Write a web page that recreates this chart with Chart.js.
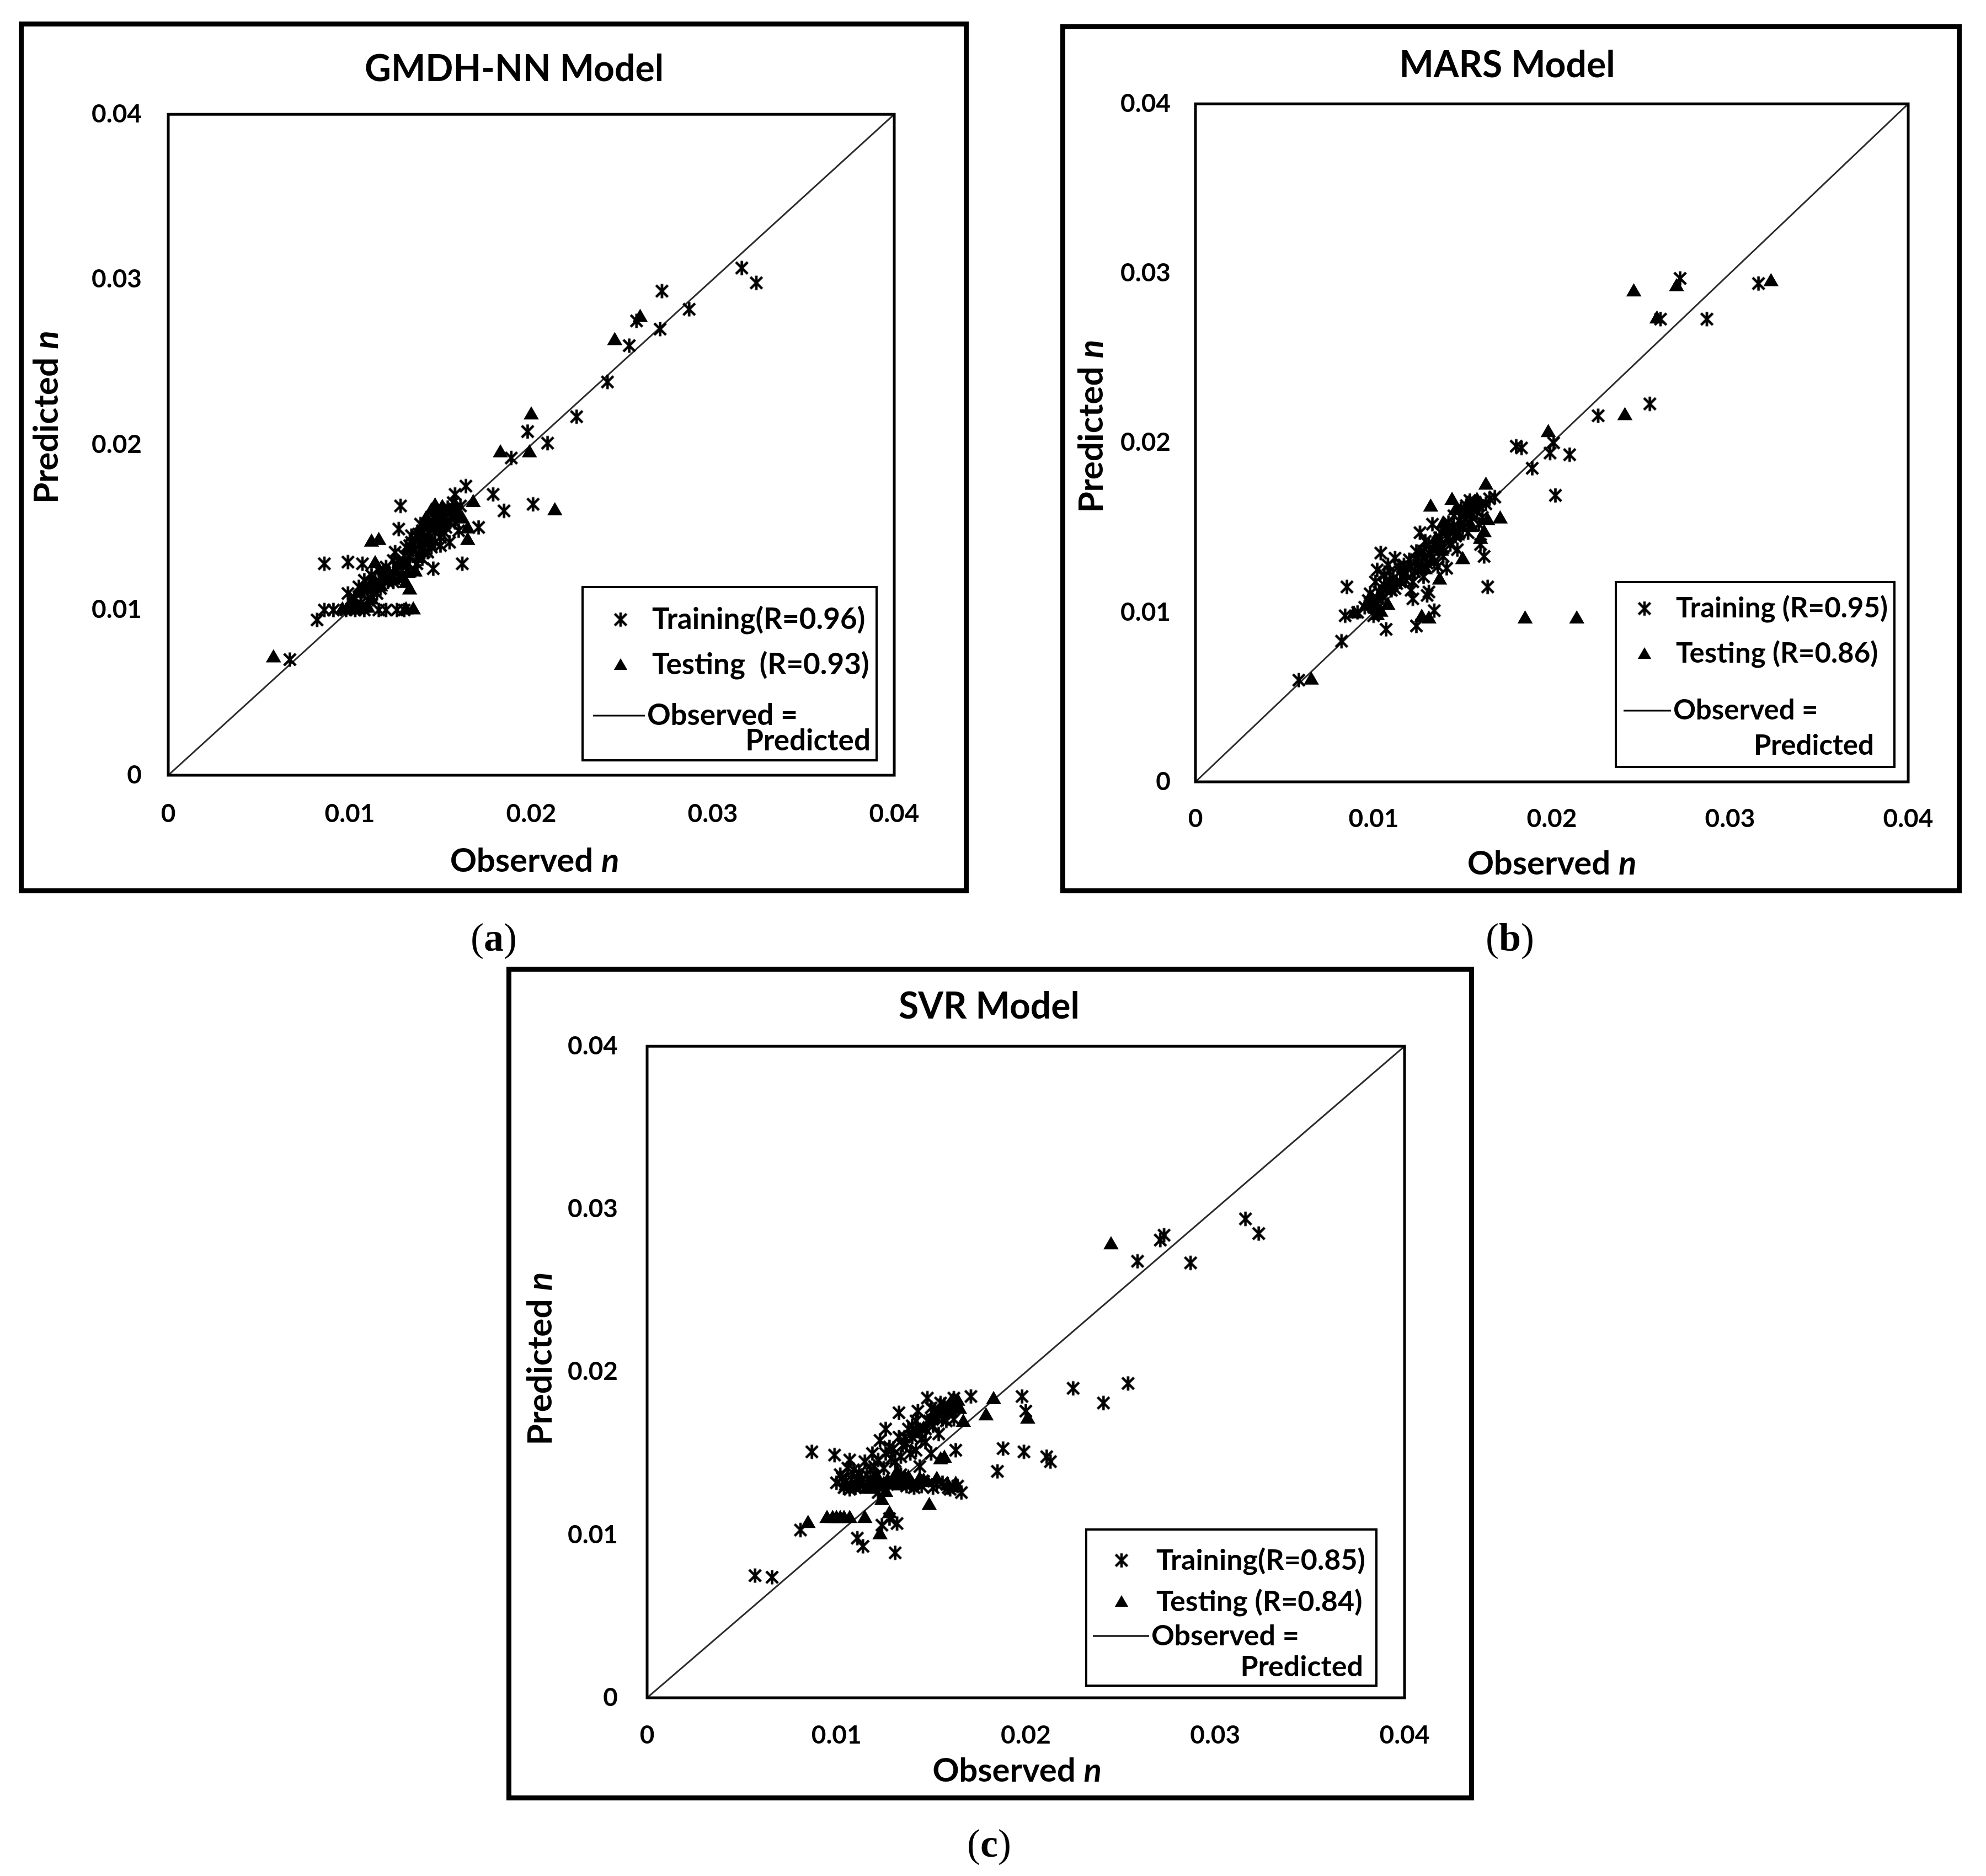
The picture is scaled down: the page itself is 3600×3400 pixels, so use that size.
<!DOCTYPE html>
<html>
<head>
<meta charset="utf-8">
<script src="https://cdn.jsdelivr.net/npm/chart.js@4.4.1/dist/chart.umd.min.js"></script>
<style>
  body { margin: 0; background: #fff; width: 3600px; height: 3400px; position: relative; font-family: Lato, sans-serif; }
  .panel { position: absolute; border: 9px solid #000; background: #fff; }
  .cap { position: absolute; font-family: "Liberation Serif", serif; font-size: 72px; line-height: 1; transform: translate(-50%, -50%); }
</style>
</head>
<body>
<div class="panel" style="left:34px;top:39px;width:1704px;height:1562px"><canvas id="chartA"></canvas></div>
<div class="panel" style="left:1922px;top:44px;width:1616px;height:1557px"><canvas id="chartB"></canvas></div>
<div class="panel" style="left:918px;top:1752px;width:1736px;height:1493px"><canvas id="chartC"></canvas></div>
<div class="cap" style="left:895px;top:1699px">(<b>a</b>)</div>
<div class="cap" style="left:2737px;top:1699px">(<b>b</b>)</div>
<div class="cap" style="left:1793px;top:3341px">(<b>c</b>)</div>

<script>
// axis ticks and labels
const tickValues = [0, 0.01, 0.02, 0.03, 0.04];
const tickLabels = ['0', '0.01', '0.02', '0.03', '0.04'];
const xAxisTitle = 'Observed ';
const yAxisTitle = 'Predicted ';
const axisSymbol = 'n';
const lineLabel = ['Observed =', 'Predicted'];
const diagonal = [0, 0.04];

// GMDH-NN  [observed, predicted]
const gmdhTraining = [
  [0.0067,0.0070],[0.0082,0.0094],[0.0086,0.0100],[0.0091,0.0100],[0.0098,0.0100],[0.0103,0.0100],
  [0.0108,0.0100],[0.0116,0.0100],[0.0120,0.0100],[0.0126,0.0100],[0.0130,0.0100],[0.0086,0.0128],
  [0.0099,0.0129],[0.0107,0.0128],[0.0099,0.0110],[0.0103,0.0107],[0.0105,0.0114],[0.0108,0.0118],
  [0.0110,0.0112],[0.0112,0.0121],[0.0114,0.0117],[0.0116,0.0124],[0.0118,0.0119],[0.0120,0.0126],
  [0.0122,0.0122],[0.0124,0.0130],[0.0125,0.0135],[0.0127,0.0149],[0.0128,0.0163],[0.0129,0.0127],
  [0.0131,0.0138],[0.0133,0.0132],[0.0134,0.0141],[0.0136,0.0124],[0.0137,0.0145],[0.0139,0.0136],
  [0.0140,0.0148],[0.0142,0.0142],[0.0143,0.0151],[0.0145,0.0138],[0.0146,0.0125],[0.0147,0.0147],
  [0.0148,0.0155],[0.0150,0.0144],[0.0151,0.0158],[0.0153,0.0150],[0.0154,0.0162],[0.0155,0.0141],
  [0.0157,0.0165],[0.0158,0.0153],[0.0160,0.0148],[0.0162,0.0128],[0.0164,0.0175],[0.0158,0.0170],
  [0.0171,0.0150],[0.0179,0.0170],[0.0185,0.0160],[0.0189,0.0192],[0.0198,0.0208],[0.0201,0.0164],
  [0.0209,0.0201],[0.0225,0.0217],[0.0242,0.0238],[0.0254,0.0260],[0.0258,0.0275],[0.0271,0.0270],
  [0.0272,0.0293],[0.0287,0.0282],[0.0316,0.0307],[0.0324,0.0298],
  [0.0112,0.0113],[0.0115,0.0110],[0.0119,0.0123],[0.0121,0.0117],[0.0126,0.0127],[0.0130,0.0133],
  [0.0132,0.0128],[0.0135,0.0136],[0.0138,0.0140],[0.0141,0.0135],[0.0144,0.0146],[0.0149,0.0150],
  [0.0152,0.0147],[0.0156,0.0157],[0.0159,0.0160],[0.0161,0.0163],[0.0134,0.0145],[0.0139,0.0152],
  [0.0133,0.0139],[0.0136,0.0142],[0.0138,0.0146],[0.0141,0.0150],[0.0144,0.0153],[0.0146,0.0156],
  [0.0149,0.0153],[0.0151,0.0151],[0.0153,0.0156],[0.0155,0.0153],[0.0147,0.0141],[0.0150,0.0139],
  [0.0143,0.0135],[0.0140,0.0131],[0.0137,0.0128],[0.0127,0.0120],[0.0124,0.0117],[0.0117,0.0113],
  [0.0106,0.0104],[0.0110,0.0106]
];
const gmdhTesting = [
  [0.0058,0.0071],[0.0096,0.0100],[0.0099,0.0100],[0.0102,0.0100],[0.0105,0.0100],[0.0107,0.0101],
  [0.0131,0.0100],[0.0135,0.0100],[0.0102,0.0105],[0.0105,0.0110],[0.0108,0.0113],[0.0112,0.0141],
  [0.0116,0.0142],[0.0114,0.0128],[0.0118,0.0118],[0.0122,0.0121],[0.0125,0.0123],[0.0128,0.0119],
  [0.0131,0.0116],[0.0133,0.0112],[0.0136,0.0123],[0.0138,0.0131],[0.0140,0.0136],[0.0143,0.0143],
  [0.0145,0.0160],[0.0147,0.0163],[0.0149,0.0158],[0.0152,0.0152],[0.0160,0.0157],[0.0165,0.0149],
  [0.0165,0.0142],[0.0168,0.0165],[0.0183,0.0195],[0.0199,0.0195],[0.0200,0.0218],[0.0213,0.0160],
  [0.0246,0.0263],[0.0260,0.0277],
  [0.0110,0.0112],[0.0113,0.0118],[0.0120,0.0124],[0.0127,0.0128],[0.0134,0.0137],[0.0141,0.0141],
  [0.0150,0.0155],[0.0155,0.0160],[0.0158,0.0163],[0.0162,0.0155],[0.0100,0.0103],[0.0110,0.0101],
  [0.0142,0.0155],[0.0148,0.0160],[0.0151,0.0162],[0.0146,0.0150],[0.0139,0.0144],[0.0130,0.0127],
  [0.0124,0.0118],[0.0117,0.0114],[0.0132,0.0122],[0.0112,0.0106]
];
const gmdhLegend = ['Training(R=0.96)', 'Testing  (R=0.93)'];

// MARS
const marsTraining = [
  [0.0058,0.0060],[0.0082,0.0083],[0.0084,0.0098],[0.0085,0.0115],[0.0091,0.0100],[0.0095,0.0103],
  [0.0097,0.0107],[0.0098,0.0111],[0.0100,0.0098],[0.0101,0.0118],[0.0102,0.0125],[0.0104,0.0135],
  [0.0105,0.0109],[0.0106,0.0122],[0.0107,0.0090],[0.0108,0.0128],[0.0110,0.0113],[0.0111,0.0120],
  [0.0112,0.0132],[0.0113,0.0117],[0.0115,0.0124],[0.0117,0.0128],[0.0118,0.0119],[0.0120,0.0131],
  [0.0121,0.0113],[0.0122,0.0108],[0.0123,0.0124],[0.0124,0.0092],[0.0124,0.0136],[0.0126,0.0147],
  [0.0127,0.0130],[0.0128,0.0121],[0.0129,0.0142],[0.0130,0.0110],[0.0131,0.0112],[0.0132,0.0134],
  [0.0133,0.0152],[0.0134,0.0101],[0.0135,0.0139],[0.0136,0.0127],[0.0137,0.0144],[0.0139,0.0133],
  [0.0140,0.0148],[0.0141,0.0126],[0.0142,0.0153],[0.0143,0.0140],[0.0145,0.0157],[0.0146,0.0145],
  [0.0147,0.0137],[0.0149,0.0161],[0.0150,0.0150],[0.0152,0.0163],[0.0153,0.0147],[0.0155,0.0158],
  [0.0157,0.0165],[0.0159,0.0152],[0.0160,0.0140],[0.0162,0.0133],[0.0164,0.0115],[0.0165,0.0167],
  [0.0168,0.0168],[0.0180,0.0198],[0.0183,0.0197],[0.0189,0.0185],[0.0199,0.0194],[0.0201,0.0200],
  [0.0202,0.0169],[0.0210,0.0193],[0.0226,0.0216],[0.0255,0.0223],[0.0261,0.0273],[0.0272,0.0297],
  [0.0287,0.0273],[0.0316,0.0294],
  [0.0099,0.0105],[0.0103,0.0112],[0.0106,0.0116],[0.0109,0.0124],[0.0114,0.0127],[0.0116,0.0121],
  [0.0119,0.0126],[0.0122,0.0118],[0.0125,0.0128],[0.0128,0.0136],[0.0131,0.0140],[0.0134,0.0130],
  [0.0138,0.0147],[0.0144,0.0150],[0.0148,0.0154],[0.0151,0.0155],[0.0154,0.0166],[0.0158,0.0160],
  [0.0161,0.0156],[0.0163,0.0164],
  [0.0100,0.0103],[0.0102,0.0108],[0.0104,0.0111],[0.0107,0.0113],[0.0109,0.0117],[0.0112,0.0114],
  [0.0115,0.0118],[0.0118,0.0123],[0.0121,0.0127],[0.0124,0.0131],[0.0127,0.0126],[0.0130,0.0129],
  [0.0133,0.0137],[0.0136,0.0141],[0.0139,0.0138],[0.0142,0.0144],[0.0145,0.0150],[0.0148,0.0147],
  [0.0151,0.0160],[0.0154,0.0153],[0.0156,0.0161],[0.0159,0.0163]
];
const marsTesting = [
  [0.0065,0.0060],[0.0089,0.0099],[0.0096,0.0104],[0.0099,0.0108],[0.0101,0.0102],[0.0104,0.0100],
  [0.0127,0.0097],[0.0131,0.0096],[0.0132,0.0162],[0.0133,0.0130],[0.0137,0.0119],[0.0142,0.0148],
  [0.0144,0.0166],[0.0147,0.0145],[0.0150,0.0131],[0.0152,0.0158],[0.0156,0.0162],[0.0160,0.0143],
  [0.0162,0.0147],[0.0163,0.0175],[0.0164,0.0154],[0.0171,0.0155],[0.0185,0.0096],[0.0198,0.0206],
  [0.0214,0.0096],[0.0241,0.0216],[0.0246,0.0289],[0.0259,0.0273],[0.0270,0.0292],[0.0323,0.0295],
  [0.0100,0.0106],[0.0102,0.0098],[0.0126,0.0135],[0.0135,0.0143],[0.0139,0.0152],[0.0146,0.0160],
  [0.0155,0.0150],[0.0158,0.0166],
  [0.0129,0.0125],[0.0138,0.0136],[0.0149,0.0150],[0.0153,0.0164],[0.0108,0.0104]
];
const marsLegend = ['Training (R=0.95)', 'Testing (R=0.86)'];

// SVR
const svrTraining = [
  [0.0057,0.0075],[0.0066,0.0074],[0.0081,0.0103],[0.0087,0.0151],[0.0099,0.0149],[0.0107,0.0146],
  [0.0100,0.0132],[0.0102,0.0137],[0.0104,0.0129],[0.0106,0.0141],[0.0108,0.0134],[0.0110,0.0129],
  [0.0111,0.0098],[0.0114,0.0093],[0.0112,0.0138],[0.0115,0.0145],[0.0117,0.0131],[0.0119,0.0150],
  [0.0121,0.0136],[0.0122,0.0126],[0.0123,0.0158],[0.0124,0.0106],[0.0125,0.0141],[0.0126,0.0165],
  [0.0127,0.0131],[0.0128,0.0110],[0.0129,0.0147],[0.0130,0.0153],[0.0131,0.0089],[0.0132,0.0107],
  [0.0133,0.0175],[0.0134,0.0137],[0.0136,0.0160],[0.0137,0.0130],[0.0139,0.0150],[0.0140,0.0167],
  [0.0141,0.0129],[0.0143,0.0176],[0.0144,0.0142],[0.0145,0.0159],[0.0146,0.0133],[0.0148,0.0184],
  [0.0149,0.0170],[0.0150,0.0150],[0.0151,0.0129],[0.0152,0.0177],[0.0154,0.0162],[0.0155,0.0181],
  [0.0156,0.0132],[0.0158,0.0170],[0.0160,0.0128],[0.0162,0.0184],[0.0163,0.0152],[0.0164,0.0130],
  [0.0166,0.0126],[0.0171,0.0185],[0.0185,0.0139],[0.0188,0.0153],[0.0198,0.0185],[0.0199,0.0151],
  [0.0200,0.0176],[0.0211,0.0148],[0.0213,0.0145],[0.0225,0.0190],[0.0241,0.0181],[0.0254,0.0193],
  [0.0259,0.0268],[0.0271,0.0281],[0.0273,0.0284],[0.0287,0.0267],[0.0316,0.0294],[0.0323,0.0285],
  [0.0103,0.0135],[0.0109,0.0140],[0.0113,0.0133],[0.0116,0.0137],[0.0120,0.0142],[0.0126,0.0150],
  [0.0131,0.0145],[0.0135,0.0155],[0.0138,0.0165],[0.0142,0.0170],[0.0147,0.0165],[0.0150,0.0178],
  [0.0153,0.0172],[0.0157,0.0180],[0.0161,0.0176],[0.0145,0.0130],[0.0153,0.0131],[0.0159,0.0129],
  [0.0105,0.0133],[0.0111,0.0135],[0.0118,0.0140],[0.0122,0.0146],[0.0128,0.0154],[0.0133,0.0160],
  [0.0137,0.0156],[0.0140,0.0160],[0.0144,0.0163],[0.0148,0.0170],[0.0151,0.0167],[0.0154,0.0175],
  [0.0156,0.0171],[0.0159,0.0175],[0.0162,0.0171],[0.0134,0.0148],[0.0142,0.0152],[0.0147,0.0157],
  [0.0120,0.0131],[0.0107,0.0128]
];
const svrTesting = [
  [0.0085,0.0107],[0.0095,0.0110],[0.0098,0.0110],[0.0100,0.0110],[0.0102,0.0110],[0.0104,0.0110],
  [0.0107,0.0110],[0.0115,0.0110],[0.0105,0.0130],[0.0110,0.0129],[0.0118,0.0132],[0.0121,0.0136],
  [0.0123,0.0100],[0.0124,0.0121],[0.0125,0.0131],[0.0127,0.0133],[0.0130,0.0134],[0.0132,0.0138],
  [0.0135,0.0132],[0.0138,0.0135],[0.0141,0.0162],[0.0143,0.0165],[0.0146,0.0133],[0.0149,0.0118],
  [0.0152,0.0175],[0.0155,0.0146],[0.0157,0.0147],[0.0160,0.0180],[0.0162,0.0129],[0.0164,0.0182],
  [0.0165,0.0177],[0.0167,0.0169],[0.0179,0.0173],[0.0183,0.0183],[0.0201,0.0171],[0.0245,0.0278],
  [0.0113,0.0131],[0.0116,0.0128],[0.0128,0.0131],[0.0136,0.0135],[0.0140,0.0131],[0.0144,0.0134],
  [0.0148,0.0132],[0.0153,0.0134],[0.0159,0.0130],[0.0163,0.0131],[0.0126,0.0126],[0.0128,0.0113],
  [0.0119,0.0128],[0.0122,0.0132],[0.0133,0.0130],[0.0150,0.0170],[0.0146,0.0165],[0.0156,0.0176],
  [0.0161,0.0178],[0.0162,0.0183]
];
const svrLegend = ['Training(R=0.85)', 'Testing (R=0.84)'];

// Excel-like star marker: an X with a vertical bar
function makeStar(size, lw) {
  const c = document.createElement('canvas');
  c.width = c.height = size;
  const g = c.getContext('2d');
  const m = size / 2, r = size / 2 - 1.5, d = r * 0.82;
  g.strokeStyle = '#000';
  g.lineWidth = lw;
  g.beginPath();
  g.moveTo(m, m - r); g.lineTo(m, m + r);
  g.moveTo(m - d, m - d); g.lineTo(m + d, m + d);
  g.moveTo(m + d, m - d); g.lineTo(m - d, m + d);
  g.stroke();
  return c;
}
const starImg = makeStar(29, 4.6);

function drawTriangle(ctx, x, y, r) {
  ctx.beginPath();
  ctx.moveTo(x, y - r);
  ctx.lineTo(x + r * 0.866, y + r * 0.5);
  ctx.lineTo(x - r * 0.866, y + r * 0.5);
  ctx.closePath();
  ctx.fill();
}

function drawAxisTitle(ctx, label, cx, cy, rot, size) {
  const plain = 'bold ' + size + 'px Lato', ital = 'italic bold ' + size + 'px Lato';
  ctx.save();
  ctx.translate(cx, cy);
  ctx.rotate(rot);
  ctx.font = plain;
  const w1 = ctx.measureText(label).width;
  ctx.font = ital;
  const w2 = ctx.measureText(axisSymbol).width;
  const x = -(w1 + w2) / 2;
  ctx.textAlign = 'left';
  ctx.textBaseline = 'middle';
  ctx.font = plain;
  ctx.fillText(label, x, 0);
  ctx.font = ital;
  ctx.fillText(axisSymbol, x + w1, 0);
  ctx.restore();
}

const decorPlugin = {
  id: 'decor',
  afterDatasetsDraw(chart, args, o) {
    const ctx = chart.ctx, a = chart.chartArea;
    ctx.save();
    ctx.fillStyle = '#000';
    ctx.strokeStyle = '#000';
    ctx.lineWidth = 5;
    ctx.strokeRect(a.left, a.top, a.right - a.left, a.bottom - a.top);

    drawAxisTitle(ctx, xAxisTitle, (a.left + a.right) / 2 + o.xTitleShift, a.bottom + o.xTitleGap, 0, 60);
    drawAxisTitle(ctx, yAxisTitle, o.yTitleX, (a.top + a.bottom) / 2 + o.yTitleShift, -Math.PI / 2, 62);

    // legend box inside the plot area
    const L = o.legend;
    const bx = a.right - L.right - L.w, by = a.bottom - L.bottom - L.h;
    ctx.fillStyle = '#fff';
    ctx.fillRect(bx, by, L.w, L.h);
    ctx.fillStyle = '#000';
    ctx.lineWidth = 4;
    ctx.strokeRect(bx, by, L.w, L.h);

    ctx.drawImage(starImg, bx + L.markX - starImg.width / 2, by + L.rows[0] - starImg.height / 2);
    drawTriangle(ctx, bx + L.markX, by + L.rows[1] + 2, 14);
    ctx.lineWidth = 3;
    ctx.beginPath();
    ctx.moveTo(bx + L.line[0], by + L.rows[2]);
    ctx.lineTo(bx + L.line[1], by + L.rows[2]);
    ctx.stroke();

    ctx.font = 'bold ' + L.font + 'px Lato';
    ctx.textBaseline = 'middle';
    ctx.textAlign = 'left';
    ctx.fillText(o.labels[0], bx + L.textX, by + L.rows[0]);
    ctx.fillText(o.labels[1], bx + L.textX, by + L.rows[1]);
    ctx.fillText(lineLabel[0], bx + L.line[1] + 4, by + L.rows[2]);
    ctx.textAlign = 'right';
    ctx.fillText(lineLabel[1], bx + L.w - L.predRight, by + L.rows[3]);
    ctx.restore();
  }
};

function toPoints(pairs) {
  return pairs.map(p => ({ x: p[0], y: p[1] }));
}

function makeChart(id, title, training, testing, labels, lay) {
  const axisTicks = (pad) => ({
    font: { family: 'Lato', size: 46, weight: 'bold' },
    color: '#000',
    padding: pad,
    autoSkip: false,
    maxRotation: 0,
    stepSize: tickValues[1],
    callback: (value, index) => tickLabels[index]
  });
  const range = { min: tickValues[0], max: tickValues[tickValues.length - 1] };

  return new Chart(document.getElementById(id), {
    type: 'scatter',
    data: {
      datasets: [
        {
          label: labels[0],
          data: toPoints(training),
          pointStyle: starImg,
          pointRadius: 14
        },
        {
          label: labels[1],
          data: toPoints(testing),
          pointStyle: 'triangle',
          pointRadius: 16,
          backgroundColor: '#000',
          borderWidth: 0
        },
        {
          type: 'line',
          label: 'Observed = Predicted',
          data: diagonal.map(v => ({ x: v, y: v })),
          borderColor: '#2b2b2b',
          borderWidth: 3,
          pointRadius: 0
        }
      ]
    },
    options: {
      responsive: true,
      maintainAspectRatio: false,
      animation: false,
      events: [],
      layout: { padding: { left: lay.padLeft, top: 0, bottom: 0, right: lay.padRight } },
      plugins: {
        legend: { display: false },
        tooltip: { enabled: false },
        title: {
          display: true,
          text: title,
          color: '#000',
          font: { family: 'Lato', size: 66, weight: 'bold' },
          padding: { top: lay.titleTop, bottom: lay.titleBottom }
        },
        decor: {
          xTitleGap: lay.xTitleGap,
          xTitleShift: lay.xTitleShift,
          yTitleX: lay.yTitleX,
          yTitleShift: lay.yTitleShift,
          legend: lay.legend,
          labels: labels
        }
      },
      scales: {
        x: Object.assign({
          type: 'linear',
          grid: { display: false, drawTicks: false },
          border: { display: false },
          ticks: axisTicks(lay.xTickPad),
          afterFit: (s) => { s.height = lay.xAxisH; }
        }, range),
        y: Object.assign({
          type: 'linear',
          grid: { display: false, drawTicks: false },
          border: { display: false },
          ticks: axisTicks(lay.yTickPad),
          afterFit: (s) => { s.width = lay.yAxisW; }
        }, range),
        // empty spacer on the right so the title centres like the original
        ySpacer: Object.assign({
          type: 'linear',
          position: 'right',
          grid: { display: false, drawTicks: false },
          border: { display: false },
          ticks: { display: false },
          afterFit: (s) => { s.width = lay.rightW; }
        }, range)
      }
    },
    plugins: [decorPlugin]
  });
}

makeChart('chartA', 'GMDH-NN Model', gmdhTraining, gmdhTesting, gmdhLegend, {
  padLeft: 74, padRight: 0, rightW: 126, titleTop: 38, titleBottom: 42, xAxisH: 205, yAxisW: 188,
  xTickPad: 43, yTickPad: 48, xTitleGap: 156, xTitleShift: 6, yTitleX: 42, yTitleShift: -50,
  legend: { w: 533, h: 314, right: 32, bottom: 27, markX: 69, textX: 126, font: 53,
            rows: [59, 141, 233, 279], line: [19, 113], predRight: 11 }
});

makeChart('chartB', 'MARS Model', marsTraining, marsTesting, marsLegend, {
  padLeft: 0, padRight: 14, rightW: 74, titleTop: 26, titleBottom: 30, xAxisH: 193, yAxisW: 236,
  xTickPad: 40, yTickPad: 45, xTitleGap: 149, xTitleShift: 0, yTitleX: 48, yTitleShift: -30,
  legend: { w: 505, h: 335, right: 25, bottom: 27, markX: 52, textX: 109, font: 51,
            rows: [48, 130, 233, 297], line: [14, 100], predRight: 37 }
});

makeChart('chartC', 'SVR Model', svrTraining, svrTesting, svrLegend, {
  padLeft: 0, padRight: 4, rightW: 113, titleTop: 24, titleBottom: 32, xAxisH: 177, yAxisW: 246,
  xTickPad: 41, yTickPad: 53, xTitleGap: 133, xTitleShift: -16, yTitleX: 53, yTitleShift: -24,
  legend: { w: 526, h: 283, right: 51, bottom: 22, markX: 64, textX: 127, font: 52,
            rows: [56, 131, 193, 249], line: [12, 114], predRight: 24 }
});
</script>
</body>
</html>
